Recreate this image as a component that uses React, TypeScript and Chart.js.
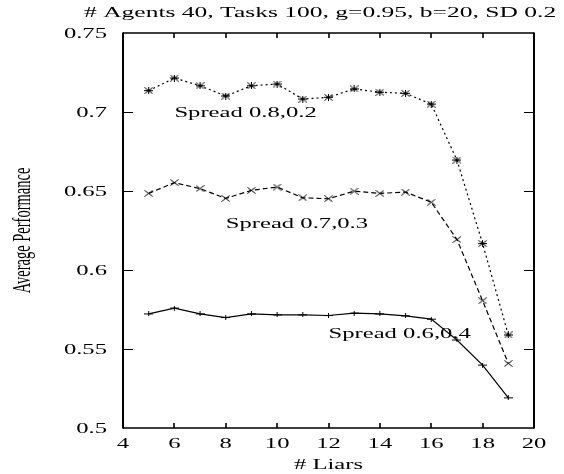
import React, { useEffect, useRef } from "react";
import { Chart, registerables } from "chart.js";

Chart.register(...registerables);

const liars = [5, 6, 7, 8, 9, 10, 11, 12, 13, 14, 15, 16, 17, 18, 19];
const spread82 = [0.7135, 0.7215, 0.7166, 0.7101, 0.7166, 0.7177, 0.7082, 0.7093, 0.7146, 0.7125, 0.7118, 0.705, 0.6696, 0.6167, 0.5589];
const spread73 = [0.6485, 0.6553, 0.6515, 0.6453, 0.6504, 0.6525, 0.6457, 0.6451, 0.6499, 0.6485, 0.6493, 0.6429, 0.6193, 0.5805, 0.5409];
const spread64 = [0.5722, 0.5759, 0.5722, 0.5699, 0.5722, 0.5716, 0.5716, 0.5712, 0.5727, 0.5722, 0.571, 0.5689, 0.5557, 0.5398, 0.5191];

const seriesNames = ["Spread 0.8,0.2", "Spread 0.7,0.3", "Spread 0.6,0.4"];
const labelAnchors = [
  [6, 0.7],
  [8, 0.63],
  [12, 0.56],
];
const xTicks = [4, 6, 8, 10, 12, 14, 16, 18, 20];
const yTicks = [0.5, 0.55, 0.6, 0.65, 0.7, 0.75];
const yTickLabels = ["0.5", "0.55", "0.6", "0.65", "0.7", "0.75"];
const titleText = "# Agents 40, Tasks 100, g=0.95, b=20, SD 0.2";
const xTitle = "# Liars";
const yTitle = "Average Performance";

const STRETCH = 1.76;
const FONT = "14px 'Liberation Serif'";

function makeMarker(kind: string): HTMLCanvasElement {
  const c = document.createElement("canvas");
  const w = 9;
  const h = kind === "plus" ? 5 : 7;
  c.width = w;
  c.height = h;
  const g = c.getContext("2d")!;
  g.strokeStyle = "#000";
  g.lineWidth = 1;
  g.beginPath();
  if (kind === "star" || kind === "cross") {
    g.moveTo(0.5, 0.5);
    g.lineTo(w - 0.5, h - 0.5);
    g.moveTo(w - 0.5, 0.5);
    g.lineTo(0.5, h - 0.5);
  }
  if (kind === "star" || kind === "plus") {
    g.moveTo(0, h / 2);
    g.lineTo(w, h / 2);
    g.moveTo(w / 2, 0);
    g.lineTo(w / 2, h);
  }
  g.stroke();
  return c;
}

function drawText(
  ctx: CanvasRenderingContext2D,
  text: string,
  x: number,
  y: number,
  align: CanvasTextAlign,
  rotate = false,
  font = FONT
) {
  ctx.save();
  ctx.translate(x, y);
  if (rotate) {
    ctx.rotate(-Math.PI / 2);
    ctx.scale(1, STRETCH);
  } else {
    ctx.scale(STRETCH, 1);
  }
  ctx.font = font;
  ctx.fillStyle = "#000";
  ctx.textAlign = align;
  ctx.textBaseline = "alphabetic";
  ctx.fillText(text, 0, 0);
  ctx.restore();
}

const gnuplotFrame = {
  id: "gnuplotFrame",
  afterDraw(chart: any) {
    const ctx: CanvasRenderingContext2D = chart.ctx;
    const { left, right, top, bottom } = chart.chartArea;
    const xs = chart.scales.x;
    const ys = chart.scales.y;
    ctx.save();
    ctx.strokeStyle = "#000";
    // vertical frame lines
    ctx.lineWidth = 2;
    ctx.beginPath();
    ctx.moveTo(left, top - 0.5);
    ctx.lineTo(left, bottom + 0.5);
    ctx.moveTo(right, top - 0.5);
    ctx.lineTo(right, bottom + 0.5);
    ctx.stroke();
    // horizontal frame lines
    ctx.lineWidth = 1.4;
    ctx.beginPath();
    ctx.moveTo(left, top);
    ctx.lineTo(right, top);
    ctx.moveTo(left, bottom);
    ctx.lineTo(right, bottom);
    ctx.stroke();
    // x ticks (inward, mirrored)
    ctx.lineWidth = 1.6;
    ctx.beginPath();
    xTicks.forEach((v) => {
      if (v === xTicks[0] || v === xTicks[xTicks.length - 1]) return;
      const px = Math.round(xs.getPixelForValue(v));
      ctx.moveTo(px, bottom);
      ctx.lineTo(px, bottom - 5);
      ctx.moveTo(px, top);
      ctx.lineTo(px, top + 5);
    });
    ctx.stroke();
    // y ticks
    ctx.lineWidth = 1.2;
    ctx.beginPath();
    yTicks.forEach((v) => {
      if (v === yTicks[0] || v === yTicks[yTicks.length - 1]) return;
      const py = Math.round(ys.getPixelForValue(v)) + 0.5;
      ctx.moveTo(left, py);
      ctx.lineTo(left + 10, py);
      ctx.moveTo(right, py);
      ctx.lineTo(right - 10, py);
    });
    ctx.stroke();
    ctx.restore();

    // tick labels
    yTicks.forEach((v, i) => {
      drawText(ctx, yTickLabels[i], 107, ys.getPixelForValue(v) + 5, "right");
    });
    xTicks.forEach((v) => {
      drawText(ctx, String(v), xs.getPixelForValue(v), 448, "center");
    });
    // titles
    drawText(ctx, titleText, 84, 17, "left", false, "14.5px 'Liberation Serif'");
    drawText(ctx, xTitle, (left + right) / 2, 469, "center");
    drawText(ctx, yTitle, 30, (top + bottom) / 2, "center", true, "14.5px 'Liberation Serif'");
    // series labels
    labelAnchors.forEach((a, i) => {
      drawText(ctx, seriesNames[i], xs.getPixelForValue(a[0]), ys.getPixelForValue(a[1]) + 5, "left");
    });
  },
};

export default function App() {
  const ref = useRef<HTMLCanvasElement | null>(null);
  useEffect(() => {
    if (!ref.current) return;
    const toPts = (vals: number[]) => liars.map((x, i) => ({ x, y: vals[i] }));
    const star = makeMarker("star");
    const cross = makeMarker("cross");
    const plus = makeMarker("plus");
    const chart = new Chart(ref.current, {
      type: "line",
      data: {
        datasets: [
          {
            label: seriesNames[0],
            data: toPts(spread82),
            borderColor: "#000",
            borderWidth: 1.2,
            borderDash: [2, 3],
            pointStyle: star as any,
            pointRadius: 4,
            tension: 0,
          },
          {
            label: seriesNames[1],
            data: toPts(spread73),
            borderColor: "#000",
            borderWidth: 1.2,
            borderDash: [5, 3],
            pointStyle: cross as any,
            pointRadius: 4,
            tension: 0,
          },
          {
            label: seriesNames[2],
            data: toPts(spread64),
            borderColor: "#000",
            borderWidth: 1.2,
            pointStyle: plus as any,
            pointRadius: 4,
            tension: 0,
          },
        ],
      },
      options: {
        animation: false,
        responsive: false,
        devicePixelRatio: 1,
        layout: { padding: { left: 123, right: 30, top: 33, bottom: 46 } },
        plugins: { legend: { display: false }, tooltip: { enabled: false }, title: { display: false } },
        scales: {
          x: {
            type: "linear",
            min: 4,
            max: 20,
            ticks: { display: false, stepSize: 2 },
            grid: { display: false, drawTicks: false },
            border: { display: false },
          },
          y: {
            type: "linear",
            min: 0.5,
            max: 0.75,
            ticks: { display: false, stepSize: 0.05 },
            grid: { display: false, drawTicks: false },
            border: { display: false },
          },
        },
      },
      plugins: [gnuplotFrame],
    });
    return () => chart.destroy();
  }, []);
  return (
    <div style={{ position: "fixed", left: 0, top: 0, width: 564, height: 474, background: "#fff" }}>
      <canvas ref={ref} width={564} height={474} style={{ width: 564, height: 474, display: "block" }} />
    </div>
  );
}
